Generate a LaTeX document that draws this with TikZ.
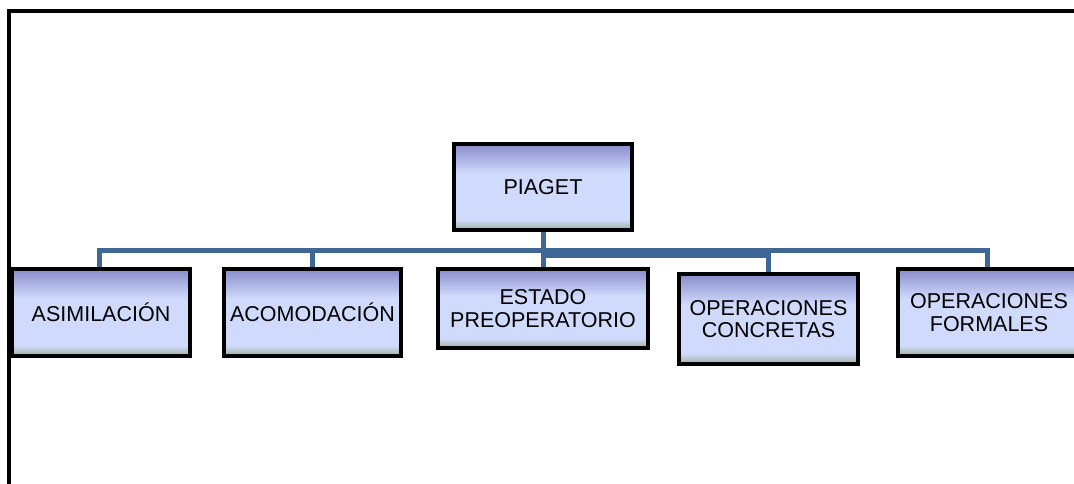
\documentclass[tikz,border=0pt]{standalone}
\usepackage{fontspec}
\setmainfont{Liberation Sans}
\usetikzlibrary{backgrounds}

% box fill: lavender top, pale middle, grey-green foot (TikZ maps 25bp..75bp onto the box)
\definecolor{boxtop}{RGB}{136,140,202}
\definecolor{boxmid}{RGB}{208,218,252}
\definecolor{boxfoot}{RGB}{158,175,156}
\definecolor{linkblue}{RGB}{63,103,150}
\pgfdeclareverticalshading{smartbox}{100bp}{%
  color(0bp)=(boxfoot); color(25bp)=(boxfoot); color(31bp)=(boxmid);
  color(58bp)=(boxmid); color(75bp)=(boxtop); color(100bp)=(boxtop)}

\tikzset{
  conceptbox/.style={draw=black, line width=4pt, shading=smartbox,
    inner sep=0pt, align=center, text=black,
    font=\fontsize{21.5}{22.5}\selectfont},
  link/.style={draw=linkblue, line width=5pt},
  frameline/.style={draw=black, line width=4pt}
}

\begin{document}
\begin{tikzpicture}[x=1pt,y=-1pt]
  \clip (0,0) rectangle (1074,484);

  % page frame
  \coordinate (frameBL) at (9,486);
  \coordinate (frameTL) at (9,10.8);
  \coordinate (frameTR) at (1076,10.8);
  \draw[frameline] (frameBL) -- (frameTL) -- (frameTR);

  % concept boxes
  \node[conceptbox, minimum width=178pt, minimum height=86pt] (piaget) at (543,187) {PIAGET};
  \node[conceptbox, minimum width=178pt, minimum height=87pt] (asim) at (101,312.5) {ASIMILACIÓN};
  \node[conceptbox, minimum width=177pt, minimum height=87pt] (acom) at (312.5,312.5) {ACOMODACIÓN};
  \node[conceptbox, minimum width=210pt, minimum height=79pt] (estado) at (543,308.5) {ESTADO\\PREOPERATORIO};
  \node[conceptbox, minimum width=179pt, minimum height=90pt] (concretas) at (768.5,319) {OPERACIONES\\CONCRETAS};
  \node[conceptbox, minimum width=182pt, minimum height=87pt] (formales) at (989,312.5) {OPERACIONES\\FORMALES};

  % bus heights of the org-chart connectors
  \coordinate (busA) at (543,250.5);
  \coordinate (busB) at (543,255);

  \begin{scope}[on background layer]
    \fill[white] (0,0) rectangle (1074,484);
    \draw[link] (piaget.south) -- (busA) -| ([xshift=-2pt]asim.north);
    \draw[link] (piaget.south) -- (busA) -| (acom.north);
    \draw[link] (piaget.south) -- (estado.north);
    \draw[link] (piaget.south) -- (busB) -| (concretas.north);
    \draw[link] (piaget.south) -- (busA) -| ([xshift=-1.5pt]formales.north);
  \end{scope}
\end{tikzpicture}
\end{document}
